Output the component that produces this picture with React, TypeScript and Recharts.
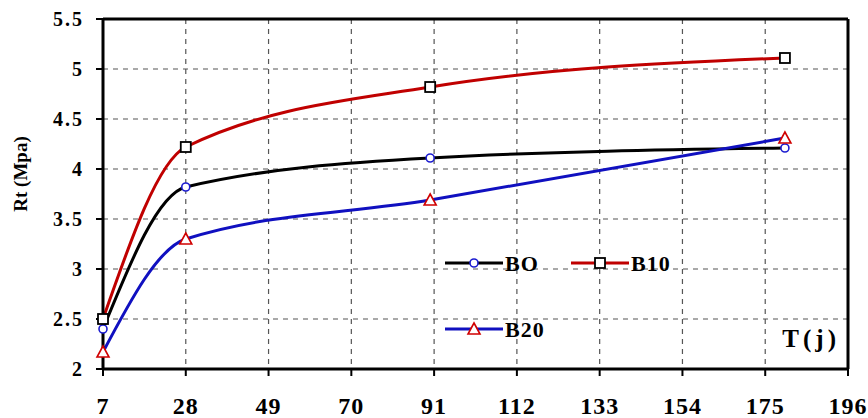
import {
  LineChart,
  Line,
  XAxis,
  YAxis,
  CartesianGrid,
  ReferenceLine,
  Label,
} from 'recharts';

const days = [7, 28, 90, 180];
const b0 = [2.4, 3.82, 4.11, 4.21];
const b10 = [2.5, 4.22, 4.82, 5.11];
const b20 = [2.17, 3.3, 3.69, 4.31];

const xTicks = [7, 28, 49, 70, 91, 112, 133, 154, 175, 196];
const yTicks = [2, 2.5, 3, 3.5, 4, 4.5, 5, 5.5];

const data = days.map((d, i) => ({ t: d, b0: b0[i], b10: b10[i], b20: b20[i] }));

const FONT = '"Liberation Serif", "Times New Roman", serif';

// eslint-disable-next-line @typescript-eslint/no-explicit-any
const CircleDot = (p: any) => (
  <circle cx={p.cx} cy={p.cy} r={4} fill="#fff" stroke="#1c1cd0" strokeWidth={1.6} />
);
// eslint-disable-next-line @typescript-eslint/no-explicit-any
const SquareDot = (p: any) => (
  <rect x={p.cx - 5} y={p.cy - 5} width={10} height={10} fill="#fff" stroke="#000" strokeWidth={1.8} />
);
// eslint-disable-next-line @typescript-eslint/no-explicit-any
const TriDot = (p: any) => (
  <polygon
    points={`${p.cx},${p.cy - 6} ${p.cx + 6},${p.cy + 5} ${p.cx - 6},${p.cy + 5}`}
    fill="#fff"
    stroke="#d00000"
    strokeWidth={1.6}
  />
);

// eslint-disable-next-line @typescript-eslint/no-explicit-any
const XTick = ({ x, y, payload }: any) => (
  <text x={x} y={y} dy="0.71em" textAnchor="middle" fontFamily={FONT} fontWeight="bold" fontSize={24} letterSpacing={1} fill="#000">
    {payload.value}
  </text>
);

// eslint-disable-next-line @typescript-eslint/no-explicit-any
const YTick = ({ x, y, payload }: any) => (
  <text x={x} y={y} dy="0.355em" textAnchor="end" fontFamily={FONT} fontWeight="bold" fontSize={20} letterSpacing={2} fill="#000">
    {payload.value}
  </text>
);

const legendItems = [
  { name: 'BO', color: '#000', x: 0, y: 0, Dot: CircleDot },
  { name: 'B10', color: '#c00000', x: 126, y: 0, Dot: SquareDot },
  { name: 'B20', color: '#1010c0', x: 0, y: 66, Dot: TriDot },
];

// legend drawn over the plot, like the original
const LegendBox = () => (
  <svg
    width={240}
    height={90}
    style={{ position: 'absolute', left: 445, top: 251, overflow: 'visible' }}
  >
    {legendItems.map((it) => (
      <g key={it.name} transform={`translate(${it.x},${it.y + 12})`}>
        <line x1={0} y1={0} x2={58} y2={0} stroke={it.color} strokeWidth={3} />
        <it.Dot cx={29} cy={0} />
        <text x={60} y={8} fontFamily={FONT} fontWeight="bold" fontSize={22} letterSpacing={1} fill="#000">
          {it.name}
        </text>
      </g>
    ))}
  </svg>
);

export default function App() {
  return (
    <div
      style={{
        position: 'absolute',
        left: 0,
        top: 0,
        width: 868,
        height: 418,
        background: '#fff',
        fontFamily: FONT,
      }}
    >
      <LineChart
        width={868}
        height={418}
        data={data}
        margin={{ top: 19, right: 20, bottom: 0, left: 0 }}
      >
        <CartesianGrid
          stroke="#555"
          strokeDasharray="5 5"
          strokeWidth={1.2}
          horizontalValues={yTicks}
          verticalValues={xTicks}
        />
        <XAxis
          dataKey="t"
          type="number"
          domain={[7, 196]}
          ticks={xTicks}
          interval={0}
          height={49}
          tickSize={7}
          tickMargin={21}
          axisLine={{ stroke: '#000', strokeWidth: 3 }}
          tickLine={{ stroke: '#000', strokeWidth: 2 }}
          tick={<XTick />}
        />
        <YAxis
          type="number"
          domain={[2, 5.5]}
          ticks={yTicks}
          interval={0}
          width={103}
          tickSize={7}
          tickMargin={12}
          axisLine={{ stroke: '#000', strokeWidth: 3 }}
          tickLine={{ stroke: '#000', strokeWidth: 2 }}
          tick={<YTick />}
        >
          <Label
            value="Rt (Mpa)"
            angle={-90}
            position="insideLeft"
            offset={20}
            dy={-20}
            style={{ fill: '#000', fontFamily: FONT, fontWeight: 'bold', fontSize: 19, textAnchor: 'middle' }}
          />
        </YAxis>
        <ReferenceLine y={5.5} stroke="#000" strokeWidth={3} ifOverflow="visible" />
        <ReferenceLine x={196} stroke="#000" strokeWidth={3} ifOverflow="visible">
          <Label
            value="T(j)"
            position="insideBottomRight"
            offset={0}
            dx={-8}
            dy={-22}
            style={{ fill: '#000', fontFamily: FONT, fontWeight: 'bold', fontSize: 25, letterSpacing: 4 }}
          />
        </ReferenceLine>
        <Line
          type="monotone"
          dataKey="b0"
          name="BO"
          stroke="#000"
          strokeWidth={3}
          dot={<CircleDot />}
          isAnimationActive={false}
        />
        <Line
          type="monotone"
          dataKey="b10"
          name="B10"
          stroke="#c00000"
          strokeWidth={3}
          dot={<SquareDot />}
          isAnimationActive={false}
        />
        <Line
          type="monotone"
          dataKey="b20"
          name="B20"
          stroke="#1010c0"
          strokeWidth={3}
          dot={<TriDot />}
          isAnimationActive={false}
        />
      </LineChart>
      <LegendBox />
    </div>
  );
}
